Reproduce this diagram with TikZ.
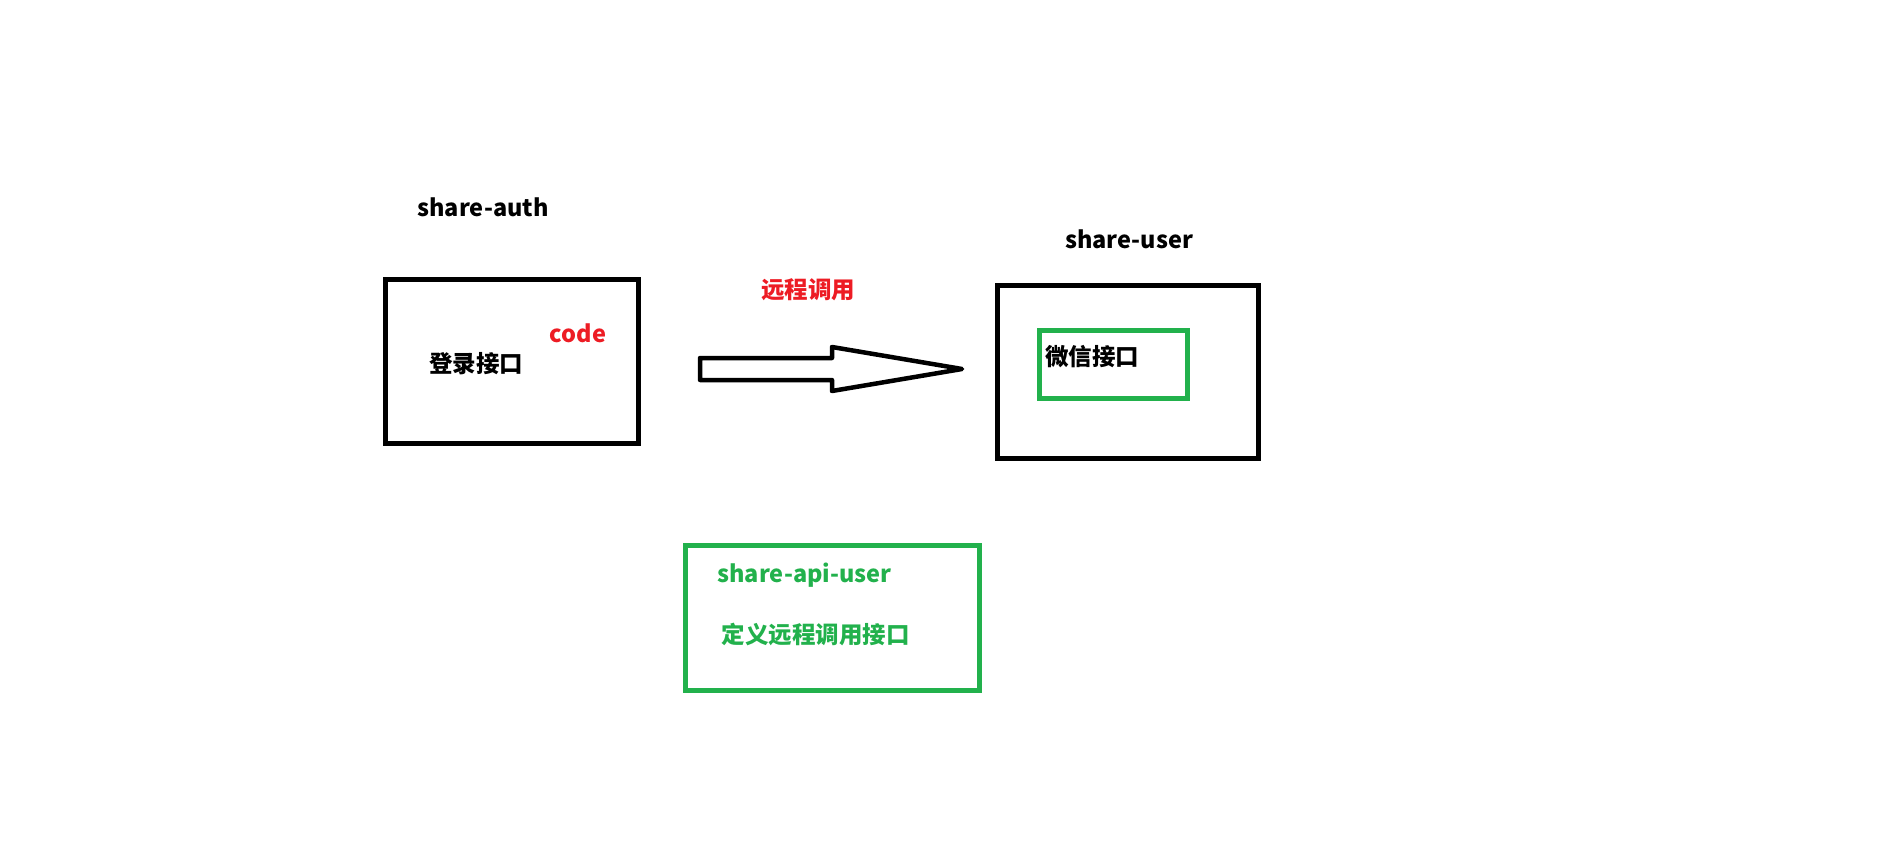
\documentclass[tikz,border=0pt]{standalone}
\usepackage{fontspec}
\usepackage{tikz}
\usetikzlibrary{calc}
\newfontfamily\cjk{Noto Sans CJK SC}
\definecolor{paintred}{RGB}{237,28,36}
\definecolor{paintgreen}{RGB}{34,177,76}

\begin{document}
\begin{tikzpicture}[x=1pt,y=-1pt,
  every node/.style={font=\cjk\bfseries\fontsize{23.5}{26}\selectfont,inner sep=0},
  box/.style={draw,line width=5,minimum width=#1},
  greenbox/.style={draw=paintgreen,line width=5,minimum width=#1},
  bigarrow/.style={draw,line width=4.5,line join=round}]

\useasboundingbox (0,0) rectangle (1889,866);

\node (authtitle) at (483,207) {share-auth};

\node [box=253,minimum height=164] (auth) at (512,361.5) {};

\node [text=paintred] (code) at (578,333) {code};

\node (login) at (476,364) {登录接口};

\node [text=paintred] (calllabel) at (808,290) {远程调用};

\node (usertitle) at (1129,239) {share-user};

\node [box=261,minimum height=173] (user) at (1128,372) {};

\draw [bigarrow] (700,358) -- (832,358) -- (832,347) -- (962,369) -- (832,391) -- (832,380) -- (700,380) -- cycle;

\node [greenbox=148,minimum height=68] (wx) at (1113.5,364.5) {};

\node (wxlabel) at (1092,357) {微信接口};

\node [greenbox=294,minimum height=145] (api) at (832.5,618) {};

\node [text=paintgreen] (apititle) at (804.5,575) {share-api-user};

\node [text=paintgreen] (apidef) at (815.5,634) {定义远程调用接口};

\end{tikzpicture}
\end{document}
